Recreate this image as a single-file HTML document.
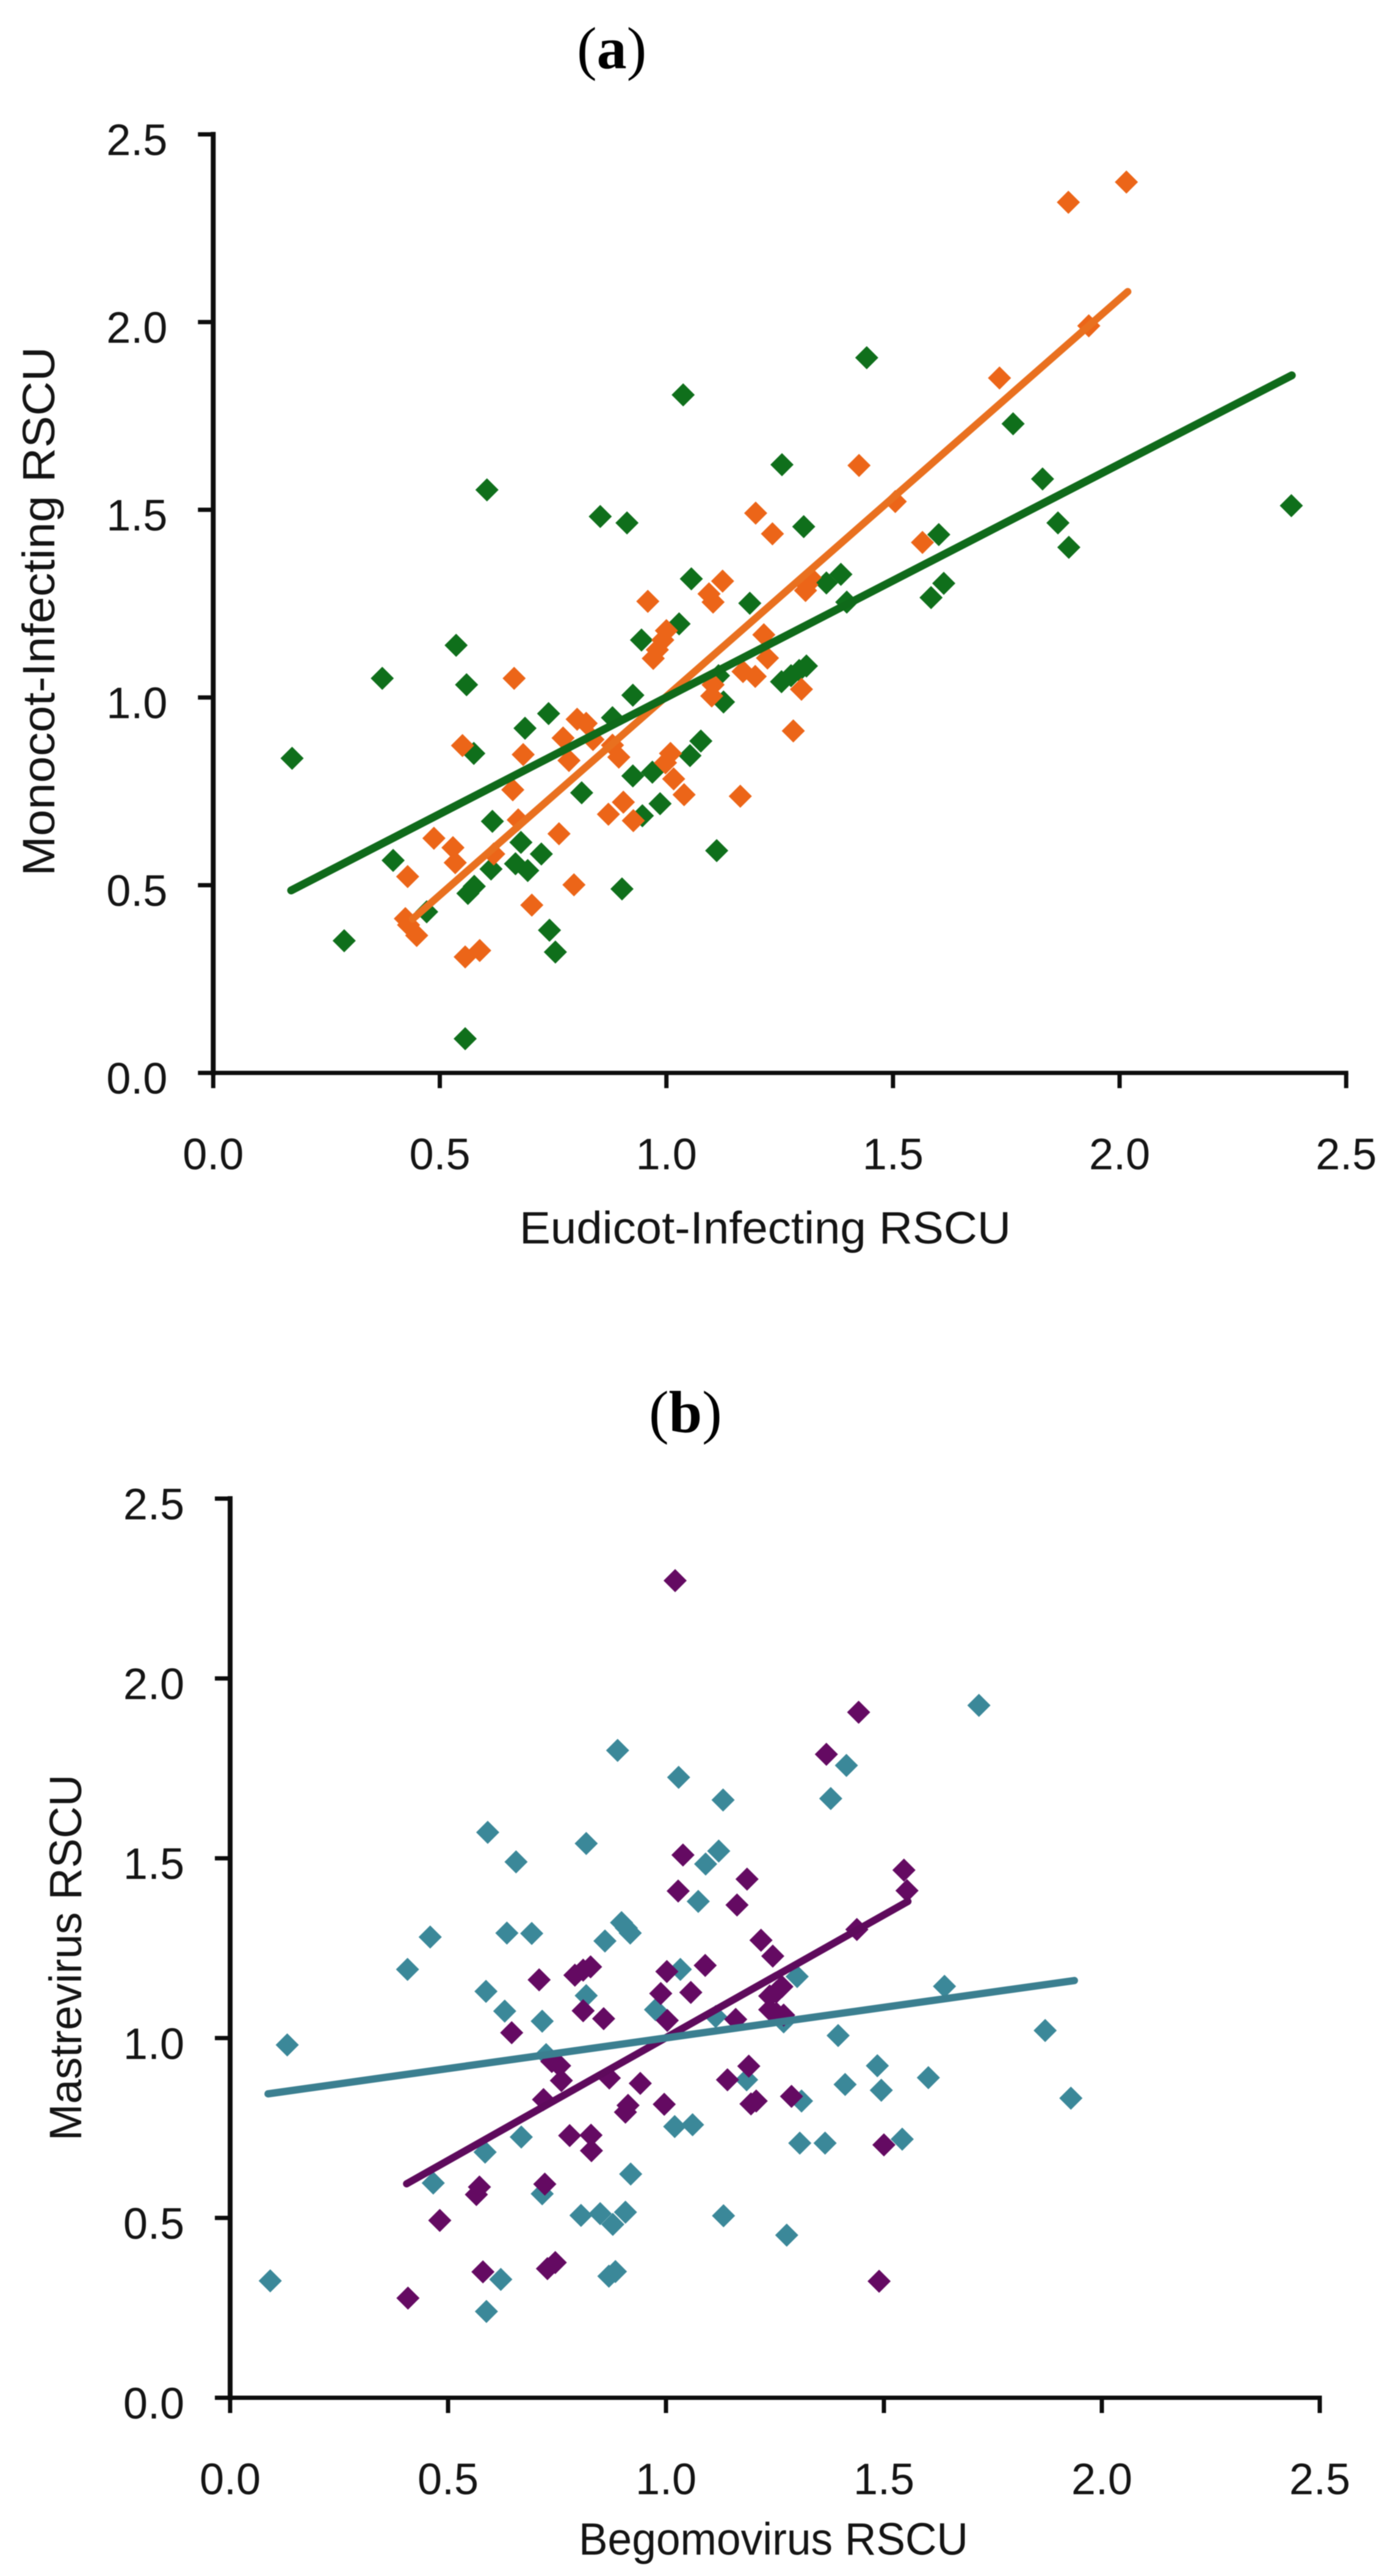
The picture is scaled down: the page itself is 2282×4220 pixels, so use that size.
<!DOCTYPE html>
<html lang="en">
<head>
<meta charset="utf-8">
<title>RSCU correlation scatter plots</title>
<style>
html,body{margin:0;padding:0;background:#fff;}
svg{display:block;filter:blur(0.8px);}
text{font-family:"Liberation Sans",sans-serif;fill:#141414;}
.panel{font-family:"Liberation Serif",serif;fill:#000;font-size:98px;}
</style>
</head>
<body>
<svg id="figure" xmlns="http://www.w3.org/2000/svg" width="2282" height="4220" viewBox="0 0 2282 4220">
<rect width="2282" height="4220" fill="#fff"/>
<text class="panel" x="945" y="112">(<tspan font-weight="bold">a</tspan>)</text>
<text class="panel" x="1063" y="2346">(<tspan font-weight="bold">b</tspan>)</text>
<text x="851" y="2037" font-size="74" textLength="805" lengthAdjust="spacingAndGlyphs">Eudicot-Infecting RSCU</text>
<text transform="translate(89 1435) rotate(-90)" font-size="74" textLength="867" lengthAdjust="spacingAndGlyphs">Monocot-Infecting RSCU</text>
<text x="948" y="4185" font-size="74" textLength="638" lengthAdjust="spacingAndGlyphs">Begomovirus RSCU</text>
<text transform="translate(133 3507) rotate(-90)" font-size="74" textLength="600" lengthAdjust="spacingAndGlyphs">Mastrevirus RSCU</text>
<g id="plot-a"></g>
<g id="plot-b"></g>
</svg>
<script>
const tickValues = [0, 0.5, 1, 1.5, 2, 2.5];
const tickLabels = ["0.0", "0.5", "1.0", "1.5", "2.0", "2.5"];

const eudicotGreenX = [1.037,.604,1.442,1.765,1.83,1.864,1.888,2.379,1.255,1.601,1.612,1.584,.536,.373,.559,.174,.575,.397,.576,.562,.471,.289,.556,.755,.854,.913,1.303,1.055,1.385,1.353,1.184,1.398,1.028,.945,.926,.74,.688,.881,1.126,1.115,1.254,1.275,1.293,1.309,1.076,1.052,.969,.926,.813,.986,.947,.616,.679,.724,.667,.694,.613,1.111,.902,.742];
const monocotGreenY = [1.806,1.553,1.905,1.729,1.582,1.465,1.40,1.511,1.62,1.434,1.304,1.266,1.139,1.051,1.034,.838,.851,.566,.497,.478,.429,.352,.091,.322,1.482,1.465,1.455,1.316,1.328,1.305,1.251,1.254,1.196,1.153,1.006,.957,.918,.946,.988,1.058,1.042,1.058,1.072,1.084,.884,.845,.801,.791,.746,.717,.685,.67,.614,.583,.557,.539,.543,.592,.49,.38];
const eudicotOrangeX = [2.015,1.887,1.932,1.735,1.425,1.505,1.234,1.197,1.565,.55,.487,.529,.534,.429,.424,.431,.449,.556,.588,1.124,1.094,1.103,.959,1.317,1.307,1.31,.664,1.0,.992,.98,.971,1.215,1.223,1.169,1.196,1.103,1.1,1.298,1.28,1.163,.803,.823,.772,.838,.684,.785,.881,.895,1.009,.998,1.016,1.039,.661,.905,.872,.927,.673,.619,.763,.796,.703];
const monocotOrangeY = [2.373,2.319,1.99,1.851,1.618,1.522,1.436,1.491,1.413,.872,.625,.6,.56,.523,.411,.394,.366,.309,.326,1.31,1.276,1.254,1.256,1.32,1.285,1.30,1.051,1.178,1.153,1.127,1.104,1.167,1.105,1.069,1.056,1.034,1.004,1.022,.911,.737,.942,.931,.892,.888,.848,.832,.873,.841,.851,.826,.783,.741,.754,.721,.689,.672,.674,.583,.637,.501,.447];
const greenTrendX = [.172, 2.38];
const greenTrendY = [.486, 1.858];
const orangeTrendX = [.44, 2.018];
const orangeTrendY = [.41, 2.081];

const begomoTealX = [.889,1.029,.459,.407,1.718,1.414,1.378,1.131,1.639,1.87,1.602,1.929,1.542,.131,.092,.466,.621,.588,.869,.884,.591,.817,.656,1.121,1.091,1.074,.635,.692,.86,.898,.909,.918,1.033,1.301,.587,.63,.716,.817,.976,.725,1.114,1.27,1.395,1.485,1.411,1.494,1.185,1.311,1.02,1.061,1.307,1.365,.668,.585,.919,.716,.805,.849,.878,.907,1.132,1.277];
const mastreTealY = [1.8,1.725,1.281,1.191,1.925,1.758,1.666,1.662,1.144,1.021,.89,.833,.719,.981,.325,.597,.329,.24,.338,.351,1.572,1.541,1.49,1.52,1.484,1.38,1.292,1.291,1.27,1.321,1.306,1.292,1.191,1.171,1.13,1.075,1.047,1.118,1.079,.954,1.06,1.045,1.007,.923,.871,.855,.884,.825,.754,.759,.708,.708,.725,.683,.622,.567,.507,.512,.482,.516,.506,.452];
const begomoPurpleX = [1.021,1.442,1.368,1.546,1.553,.481,.58,.746,.728,.408,1.489,1.039,1.186,1.028,1.163,1.438,1.218,1.245,1.09,1.002,.827,.81,.791,.709,.988,1.057,1.266,1.253,1.238,1.238,1.253,1.27,.81,.857,1.003,1.16,.646,.756,.738,.76,.719,.87,.941,.996,.913,.907,1.19,1.141,1.207,1.195,1.288,1.5,.779,.828,.829,.722,.572,.565];
const mastrePurpleY = [2.272,1.906,1.789,1.467,1.41,.493,.35,.376,.359,.277,.324,1.509,1.442,1.409,1.37,1.302,1.272,1.228,1.202,1.185,1.198,1.189,1.175,1.162,1.124,1.127,1.143,1.128,1.117,1.079,1.069,1.064,1.076,1.054,1.049,1.052,1.015,.923,.935,.882,.829,.889,.874,.816,.813,.794,.922,.884,.825,.817,.838,.703,.729,.73,.687,.594,.586,.565];
const tealTrendX = [.087, 1.937];
const tealTrendY = [.845, 1.16];
const purpleTrendX = [.405, 1.555];
const purpleTrendY = [.595, 1.38];

const SVG_NS = "http://www.w3.org/2000/svg";

function scale(origin, pixelsPerUnit) {
  return function (v) { return origin + pixelsPerUnit * v; };
}

function makeLine(parent, x1, y1, x2, y2, color, width, cap) {
  const el = document.createElementNS(SVG_NS, "line");
  el.setAttribute("x1", x1);
  el.setAttribute("y1", y1);
  el.setAttribute("x2", x2);
  el.setAttribute("y2", y2);
  el.setAttribute("stroke", color);
  el.setAttribute("stroke-width", width);
  el.setAttribute("stroke-linecap", cap || "butt");
  parent.appendChild(el);
  return el;
}

function drawAxes(parent, panel, xs, ys) {
  const axisColor = "#0d0d0d";
  const xLow = xs(tickValues[0]);
  const xHigh = xs(tickValues[tickValues.length - 1]);
  const yLow = ys(tickValues[0]);
  const yHigh = ys(tickValues[tickValues.length - 1]);

  const xAxis = makeLine(parent, xLow, yLow, xHigh, yLow, axisColor, 7, "square");
  
  

  const yAxis = makeLine(parent, xLow, yLow, xLow, yHigh, axisColor, 8, "square");
  
  

  tickValues.forEach(function (v, i) {
    const xTick = makeLine(parent, xs(v), yLow, xs(v), yLow + 25, axisColor, 7);
    
    

    const yTick = makeLine(parent, xLow - 25, ys(v), xLow, ys(v), axisColor, 7);
    
    

    const xLabel = document.createElementNS(SVG_NS, "text");
    xLabel.setAttribute("x", xs(v));
    xLabel.setAttribute("y", yLow + 158);
    xLabel.setAttribute("font-size", "72");
    xLabel.setAttribute("text-anchor", "middle");
    xLabel.textContent = tickLabels[i];
    
    
    parent.appendChild(xLabel);

    const yLabel = document.createElementNS(SVG_NS, "text");
    yLabel.setAttribute("x", xLow - 75);
    yLabel.setAttribute("y", ys(v) + 34);
    yLabel.setAttribute("font-size", "72");
    yLabel.setAttribute("text-anchor", "end");
    yLabel.textContent = tickLabels[i];
    
    
    parent.appendChild(yLabel);
  });
}

function drawPoints(parent, name, xValues, yValues, xs, ys, color) {
  const r = 19;
  xValues.forEach(function (xv, i) {
    const cx = xs(xv);
    const cy = ys(yValues[i]);
    const el = document.createElementNS(SVG_NS, "polygon");
    el.setAttribute("points", [cx, cy - r, cx + r, cy, cx, cy + r, cx - r, cy].join(","));
    el.setAttribute("fill", color);
    
    
    parent.appendChild(el);
  });
}

function drawTrend(parent, name, xValues, yValues, xs, ys, color, width) {
  const el = makeLine(parent, xs(xValues[0]), ys(yValues[0]), xs(xValues[1]), ys(yValues[1]), color, width, "round");
  
  
}

const plotA = document.getElementById("plot-a");
const xA = scale(349.3, 742.4);
const yA = scale(1757.6, -615);
drawAxes(plotA, "panel-a", xA, yA);
drawPoints(plotA, "green-point", eudicotGreenX, monocotGreenY, xA, yA, "#0f6f1b");
drawPoints(plotA, "orange-point", eudicotOrangeX, monocotOrangeY, xA, yA, "#ec6518");
drawTrend(plotA, "orange-trendline", orangeTrendX, orangeTrendY, xA, yA, "#e9701f", 12);
drawTrend(plotA, "green-trendline", greenTrendX, greenTrendY, xA, yA, "#0f6a1a", 13);

const plotB = document.getElementById("plot-b");
const xB = scale(377, 714);
const yB = scale(3928, -589.2);
drawAxes(plotB, "panel-b", xB, yB);
drawPoints(plotB, "teal-point", begomoTealX, mastreTealY, xB, yB, "#3b8899");
drawPoints(plotB, "purple-point", begomoPurpleX, mastrePurpleY, xB, yB, "#640a62");
drawTrend(plotB, "purple-trendline", purpleTrendX, purpleTrendY, xB, yB, "#5e0a5c", 12);
drawTrend(plotB, "teal-trendline", tealTrendX, tealTrendY, xB, yB, "#3b7f90", 12);
</script>
</body>
</html>
